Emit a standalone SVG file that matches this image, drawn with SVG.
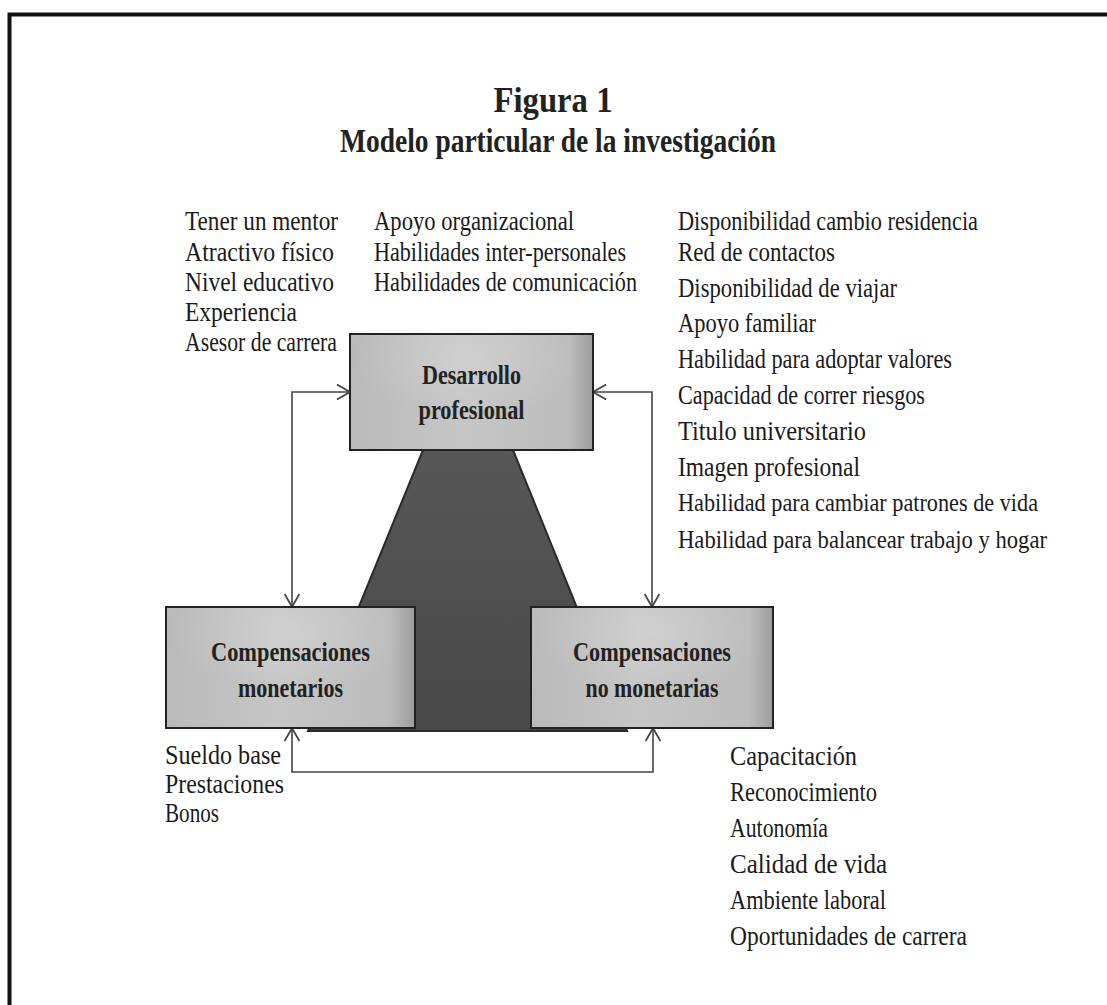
<svg xmlns="http://www.w3.org/2000/svg" width="1107" height="1005" viewBox="0 0 1107 1005">
<defs>
<style>
.t{font-family:"Liberation Serif","Times New Roman",serif;font-size:27px;fill:#1a1a1a}
.s{font-size:25px}
.b{font-family:"Liberation Serif","Times New Roman",serif;font-weight:bold;fill:#222;text-anchor:middle}
.box{fill:url(#boxg);stroke:#222;stroke-width:2}
.con{fill:none;stroke:#444;stroke-width:1.6;marker-start:url(#arr);marker-end:url(#arr)}
</style>
<linearGradient id="boxg" x1="0" y1="0" x2="1" y2="0">
<stop offset="0" stop-color="#bababa"/>
<stop offset="0.45" stop-color="#c6c6c6"/>
<stop offset="0.9" stop-color="#bcbcbc"/>
<stop offset="1" stop-color="#9c9c9c"/>
</linearGradient>
<radialGradient id="hl" cx="0.5" cy="0.2" r="0.5">
<stop offset="0" stop-color="#ffffff" stop-opacity="0.18"/>
<stop offset="1" stop-color="#ffffff" stop-opacity="0"/>
</radialGradient>
<linearGradient id="trg" x1="0" y1="0" x2="0" y2="1">
<stop offset="0" stop-color="#575757"/>
<stop offset="1" stop-color="#484848"/>
</linearGradient>
<marker id="arr" markerUnits="userSpaceOnUse" markerWidth="16" markerHeight="16" viewBox="0 0 12 14" refX="11.5" refY="7" orient="auto-start-reverse">
<path d="M0,0.5 L11.5,7 L0,13.5" fill="none" stroke="#444" stroke-width="1.6"/>
</marker>
</defs>
<rect width="1107" height="1005" fill="#fff"/>
<path d="M9.5,1005 V14.5 H1107" fill="none" stroke="#111" stroke-width="4"/>

<g id="title">
<text class="b" x="553" y="112" font-size="35" textLength="119" lengthAdjust="spacingAndGlyphs">Figura 1</text>
<text class="b" x="558" y="152" font-size="34" textLength="436" lengthAdjust="spacingAndGlyphs">Modelo particular de la investigación</text>
</g>

<g id="base">
<polygon points="423,450 513,450 627,731 308,731" fill="url(#trg)" stroke="#2a2a2a" stroke-width="2"/>
</g>

<g id="connectors">
<path class="con" d="M292,607 V392 H350"/>
<path class="con" d="M593,392 H652 V607"/>
<path class="con" d="M292,728 V772 H653 V728"/>
</g>

<g id="desarrollo">
<rect class="box" x="350" y="334" width="243" height="116"/>
<rect x="351" y="335" width="241" height="114" fill="url(#hl)"/>
<text class="b" x="471.5" y="384" font-size="28" textLength="99" lengthAdjust="spacingAndGlyphs">Desarrollo</text>
<text class="b" x="471.5" y="419" font-size="28" textLength="106" lengthAdjust="spacingAndGlyphs">profesional</text>
</g>

<g id="monetarios">
<rect class="box" x="166" y="607" width="249" height="121"/>
<rect x="167" y="608" width="247" height="119" fill="url(#hl)"/>
<text class="b" x="290.5" y="661" font-size="28" textLength="159" lengthAdjust="spacingAndGlyphs">Compensaciones</text>
<text class="b" x="290.5" y="697" font-size="28" textLength="105" lengthAdjust="spacingAndGlyphs">monetarios</text>
</g>

<g id="no-monetarias">
<rect class="box" x="531" y="607" width="242" height="121"/>
<rect x="532" y="608" width="240" height="119" fill="url(#hl)"/>
<text class="b" x="652" y="661" font-size="28" textLength="158" lengthAdjust="spacingAndGlyphs">Compensaciones</text>
<text class="b" x="652" y="697" font-size="28" textLength="133" lengthAdjust="spacingAndGlyphs">no monetarias</text>
</g>

<g id="list-left">
<text class="t" x="185" y="230" textLength="153" lengthAdjust="spacingAndGlyphs">Tener un mentor</text>
<text class="t" x="185" y="261" textLength="149" lengthAdjust="spacingAndGlyphs">Atractivo físico</text>
<text class="t" x="185" y="291" textLength="149" lengthAdjust="spacingAndGlyphs">Nivel educativo</text>
<text class="t" x="185" y="321" textLength="112" lengthAdjust="spacingAndGlyphs">Experiencia</text>
<text class="t" x="185" y="351" textLength="152" lengthAdjust="spacingAndGlyphs">Asesor de carrera</text>
</g>

<g id="list-middle">
<text class="t" x="374" y="230" textLength="200" lengthAdjust="spacingAndGlyphs">Apoyo organizacional</text>
<text class="t" x="374" y="261" textLength="252" lengthAdjust="spacingAndGlyphs">Habilidades inter-personales</text>
<text class="t" x="374" y="291" textLength="263" lengthAdjust="spacingAndGlyphs">Habilidades de comunicación</text>
</g>

<g id="list-right">
<text class="t" x="678" y="230" textLength="300" lengthAdjust="spacingAndGlyphs">Disponibilidad cambio residencia</text>
<text class="t" x="678" y="261" textLength="157" lengthAdjust="spacingAndGlyphs">Red de contactos</text>
<text class="t" x="678" y="297" textLength="219" lengthAdjust="spacingAndGlyphs">Disponibilidad de viajar</text>
<text class="t" x="678" y="332" textLength="138" lengthAdjust="spacingAndGlyphs">Apoyo familiar</text>
<text class="t" x="678" y="368" textLength="274" lengthAdjust="spacingAndGlyphs">Habilidad para adoptar valores</text>
<text class="t" x="678" y="404" textLength="247" lengthAdjust="spacingAndGlyphs">Capacidad de correr riesgos</text>
<text class="t" x="678" y="440" textLength="188" lengthAdjust="spacingAndGlyphs">Titulo universitario</text>
<text class="t" x="678" y="476" textLength="182" lengthAdjust="spacingAndGlyphs">Imagen profesional</text>
<text class="t s" x="678" y="511" textLength="360" lengthAdjust="spacingAndGlyphs">Habilidad para cambiar patrones de vida</text>
<text class="t s" x="678" y="548" textLength="369" lengthAdjust="spacingAndGlyphs">Habilidad para balancear trabajo y hogar</text>
</g>

<g id="list-bottom-left">
<text class="t" x="165" y="764" textLength="116" lengthAdjust="spacingAndGlyphs">Sueldo base</text>
<text class="t" x="165" y="793" textLength="119" lengthAdjust="spacingAndGlyphs">Prestaciones</text>
<text class="t" x="165" y="822" textLength="54" lengthAdjust="spacingAndGlyphs">Bonos</text>
</g>

<g id="list-bottom-right">
<text class="t" x="730" y="765" textLength="127" lengthAdjust="spacingAndGlyphs">Capacitación</text>
<text class="t" x="730" y="801" textLength="147" lengthAdjust="spacingAndGlyphs">Reconocimiento</text>
<text class="t" x="730" y="837" textLength="98" lengthAdjust="spacingAndGlyphs">Autonomía</text>
<text class="t" x="730" y="873" textLength="157" lengthAdjust="spacingAndGlyphs">Calidad de vida</text>
<text class="t" x="730" y="909" textLength="156" lengthAdjust="spacingAndGlyphs">Ambiente laboral</text>
<text class="t" x="730" y="945" textLength="237" lengthAdjust="spacingAndGlyphs">Oportunidades de carrera</text>
</g>
</svg>
